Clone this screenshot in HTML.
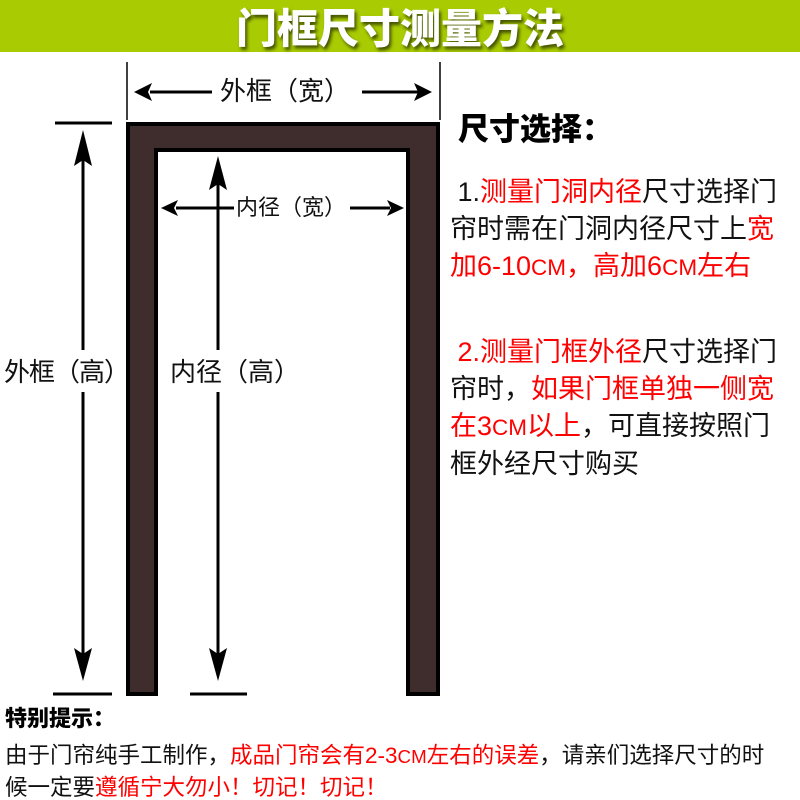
<!DOCTYPE html>
<html><head><meta charset="utf-8"><style>
html,body{margin:0;padding:0;width:800px;height:800px;background:#fff;overflow:hidden}
body{position:relative;font-family:"Liberation Sans","Noto Sans CJK SC",sans-serif}
.t{position:absolute;white-space:nowrap;color:#111;line-height:1}
.r{color:#f00}
</style></head><body>
<div style="position:absolute;left:0;top:0;width:800px;height:52px;background:#a8cb02"></div>
<div class="t" style="left:0;width:800px;top:5px;text-align:center;font-size:41px;font-weight:900;color:#fff;text-shadow:2px 3px 3px rgba(0,0,0,.6);font-family:'Noto Sans CJK SC',sans-serif">门框尺寸测量方法</div>
<svg width="800" height="800" style="position:absolute;left:0;top:0">
<path d="M128,124 H438 V694 H408 V150 H156 V694 H128Z" fill="#3f2c2c" stroke="#000" stroke-width="4"/>
<line x1="127" y1="62" x2="127" y2="120" stroke="#000" stroke-width="1.5"/>
<line x1="440" y1="62" x2="440" y2="120" stroke="#000" stroke-width="1.5"/>
<line x1="55" y1="123" x2="112" y2="123" stroke="#000" stroke-width="3"/>
<line x1="53" y1="694" x2="112" y2="694" stroke="#000" stroke-width="3"/>
<line x1="190" y1="694" x2="247" y2="694" stroke="#000" stroke-width="3"/>
<g fill="#000">
<line x1="150" y1="92" x2="212" y2="92" stroke="#000" stroke-width="3"/>
<line x1="362" y1="92" x2="418" y2="92" stroke="#000" stroke-width="3"/>
<path d="M134,92 L152,83 L148,92 L152,101Z"/><path d="M432,92 L414,83 L418,92 L414,101Z"/>
<line x1="176" y1="208" x2="234" y2="208" stroke="#000" stroke-width="3"/>
<line x1="350" y1="208" x2="390" y2="208" stroke="#000" stroke-width="3"/>
<path d="M161,208 L178,200 L174,208 L178,216Z"/><path d="M404,208 L387,200 L391,208 L387,216Z"/>
<line x1="83" y1="150" x2="83" y2="350" stroke="#000" stroke-width="3"/>
<line x1="83" y1="392" x2="83" y2="665" stroke="#000" stroke-width="3"/>
<path d="M83,130 L74,166 L83,160 L92,166Z"/><path d="M83,681 L74,648 L83,654 L92,648Z"/>
<line x1="218" y1="175" x2="218" y2="350" stroke="#000" stroke-width="3"/>
<line x1="218" y1="392" x2="218" y2="665" stroke="#000" stroke-width="3"/>
<path d="M218,156 L209,190 L218,184 L227,190Z"/><path d="M218,681 L209,648 L218,654 L227,648Z"/>
</g>
</svg>
<div class="t" style="left:220px;top:78px;font-size:26px;background:#fff">外框（宽）</div>
<div class="t" style="left:236px;top:197px;font-size:22px;background:#fff">内径（宽）</div>
<div class="t" style="left:4px;top:359px;font-size:26px;letter-spacing:-1px">外框（高）</div>
<div class="t" style="left:170px;top:359px;font-size:26px;background:#fff">内径（高）</div>
<div class="t" style="left:458px;top:114px;font-size:31px;font-weight:900;color:#000">尺寸选择：</div>
<div class="t" style="left:450px;top:174px;font-size:27px;line-height:37px">&nbsp;1.<span class="r">测量门洞内径</span>尺寸选择门<br>帘时需在门洞内径尺寸上<span class="r">宽</span><br><span class="r">加6-10<small>CM</small>，高加6<small>CM</small>左右</span></div>
<div class="t" style="left:450px;top:334px;font-size:27px;line-height:37px"><span class="r">&nbsp;2.测量门框外径</span>尺寸选择门<br>帘时，<span class="r">如果门框单独一侧宽</span><br><span class="r">在3<small>CM</small>以上</span>，可直接按照门<br>框外经尺寸购买</div>
<div class="t" style="left:5px;top:708px;font-size:22px;font-weight:900;color:#000">特别提示：</div>
<div class="t" style="left:5px;top:740px;font-size:22.5px;line-height:31px">由于门帘纯手工制作，<span class="r">成品门帘会有2-3<small>CM</small>左右的误差</span>，请亲们选择尺寸的时<br>候一定要<span class="r">遵循宁大勿小！切记！切记！</span></div>
</body></html>
